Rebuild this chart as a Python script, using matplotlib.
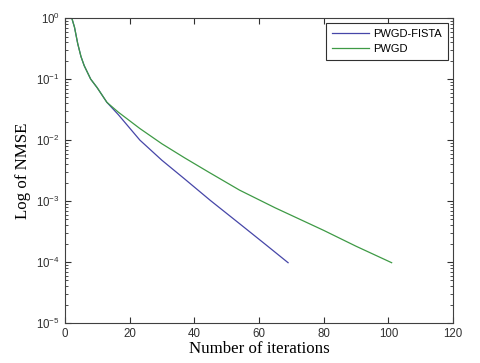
import numpy as np
import matplotlib
matplotlib.use("Agg")
import matplotlib.pyplot as plt
from matplotlib.ticker import LogLocator, NullFormatter

plt.rcParams['font.family'] = ['Liberation Sans', 'DejaVu Sans']

# values (iteration, log10 NMSE)
fista_iter = [2, 3, 4, 5, 6, 8, 10, 13, 16.5, 23.2, 30, 37.1, 45, 54, 62, 69]
fista_log = [0.03, -0.15, -0.42, -0.63, -0.78, -1.00, -1.14, -1.38,
             -1.58, -2.0, -2.33, -2.64, -2.99, -3.37, -3.71, -4.01]
pwgd_iter = [2, 3, 4, 5, 6, 8, 10, 13, 16.5, 23.2, 30, 37, 44.3, 54, 65, 80, 90, 101]
pwgd_log = [0.03, -0.15, -0.42, -0.63, -0.78, -1.00, -1.14, -1.38,
            -1.54, -1.81, -2.06, -2.29, -2.52, -2.82, -3.11, -3.48, -3.74, -4.01]

fig = plt.figure(figsize=(4.8, 3.63), dpi=100)
ax = fig.add_axes([0.135, 0.110, 0.809, 0.840])

ax.semilogy(fista_iter, 10.0 ** np.array(fista_log), color='#4646a8', lw=0.9, label='PWGD-FISTA')
ax.semilogy(pwgd_iter, 10.0 ** np.array(pwgd_log), color='#3e9a45', lw=0.9, label='PWGD')

ax.set_xlim(0, 120)
ax.set_ylim(1e-5, 1)
ax.set_xticks(range(0, 121, 20))
ax.yaxis.set_major_locator(LogLocator(base=10, numticks=10))
ax.yaxis.set_minor_locator(LogLocator(base=10, subs=np.arange(2, 10), numticks=10))
ax.yaxis.set_minor_formatter(NullFormatter())

ax.tick_params(which='both', direction='in', top=True, right=True,
               labelsize=8.3, colors='#303030')
ax.tick_params(which='major', length=4)
ax.tick_params(which='minor', length=2)
for s in ax.spines.values():
    s.set_color('#404040')
    s.set_linewidth(0.8)

ax.set_xlabel('Number of iterations', family='Liberation Serif', fontsize=12.2, labelpad=1)
ax.set_ylabel('Log of NMSE', family='Liberation Serif', fontsize=12.2, labelpad=4)

leg = ax.legend(loc='upper right', fontsize=8, fancybox=False, framealpha=1,
                edgecolor='#303030', handlelength=3.3, handletextpad=0.4,
                borderaxespad=0.45, borderpad=0.55, labelspacing=0.45)
leg.get_frame().set_linewidth(0.8)

plt.savefig('out.png', dpi=100)
